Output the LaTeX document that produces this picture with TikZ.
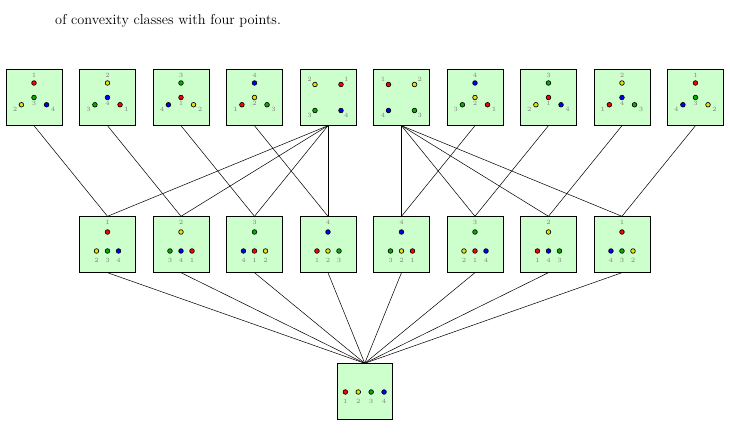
\documentclass[tikz,border=0pt]{standalone}
\usepackage{amsmath}
\usepackage{tikz}
\usetikzlibrary{positioning}

% colours of the four points
\colorlet{pcol1}{red}
\colorlet{pcol2}{yellow!90!black}
\colorlet{pcol3}{green!70!black}
\colorlet{pcol4}{blue}

\tikzset{
  classbox/.style={draw, fill=green!20, minimum size=1.52cm, inner sep=0pt},
  dotstyle/.style={draw=black, line width=0.5pt},
  numlabel/.style={text=gray, font=\tiny, inner sep=0pt},
  labN/.style={yshift=6pt},
  labC/.style={yshift=-4.6pt},
  labBL/.style={xshift=-5pt, yshift=-3.3pt},
  labBR/.style={xshift=5pt, yshift=-3.3pt},
  labUL/.style={xshift=-4.1pt, yshift=3.9pt},
  labUR/.style={xshift=4.1pt, yshift=3.9pt},
  labLL/.style={xshift=-4.1pt, yshift=-3.9pt},
  labLR/.style={xshift=4.1pt, yshift=-3.9pt},
  labUp/.style={yshift=7.3pt},
  labDn/.style={yshift=-7.3pt},
}

% one point: position, number, label placement
\newcommand{\pnt}[3]{%
  \filldraw[dotstyle, fill=pcol#2] #1 circle (1.8pt);
  \path #1 node[numlabel, #3] {#2};}

% box, top, centre, lower left, lower right
\newcommand{\tribox}[5]{%
  \begin{scope}[shift={(#1)}]
    \pnt{(90:0.395)}{#2}{labN}
    \pnt{(0,0)}{#3}{labC}
    \pnt{(210:0.395)}{#4}{labBL}
    \pnt{(330:0.395)}{#5}{labBR}
  \end{scope}}

% box, upper left, upper right, lower left, lower right
\newcommand{\sqbox}[5]{%
  \begin{scope}[shift={(#1)}]
    \pnt{(-0.354,0.354)}{#2}{labUL}
    \pnt{(0.354,0.354)}{#3}{labUR}
    \pnt{(-0.354,-0.354)}{#4}{labLL}
    \pnt{(0.354,-0.354)}{#5}{labLR}
  \end{scope}}

% box, top, then three along the bottom
\newcommand{\midbox}[5]{%
  \begin{scope}[shift={(#1)}]
    \pnt{(0,0.34)}{#2}{labUp}
    \pnt{(-0.30,-0.177)}{#3}{labDn}
    \pnt{(0,-0.177)}{#4}{labDn}
    \pnt{(0.30,-0.177)}{#5}{labDn}
  \end{scope}}

\begin{document}
\begin{tikzpicture}[scale=1]
    \useasboundingbox (-0.925, -9.510) rectangle (18.94, 2.653);

    \node[anchor=base west, inner sep=0pt, font=\fontsize{11.1}{13}\selectfont]
        (caption) at (0.571, 1.98) {of convexity classes with four points.};

    % Top row: ten classes
    \node[classbox] (t1) at (0, 0) {};
    \node[classbox] (t2) at (2, 0) {};
    \node[classbox] (t3) at (4, 0) {};
    \node[classbox] (t4) at (6, 0) {};
    \node[classbox] (t5) at (8, 0) {};
    \node[classbox] (t6) at (10, 0) {};
    \node[classbox] (t7) at (12, 0) {};
    \node[classbox] (t8) at (14, 0) {};
    \node[classbox] (t9) at (16, 0) {};
    \node[classbox] (t10) at (18, 0) {};

    \tribox{t1}{1}{3}{2}{4}
    \tribox{t2}{2}{4}{3}{1}
    \tribox{t3}{3}{1}{4}{2}
    \tribox{t4}{4}{2}{1}{3}
    \sqbox{t5}{2}{1}{3}{4}
    \sqbox{t6}{1}{2}{4}{3}
    \tribox{t7}{4}{2}{3}{1}
    \tribox{t8}{3}{1}{2}{4}
    \tribox{t9}{2}{4}{1}{3}
    \tribox{t10}{1}{3}{4}{2}

    % Middle row: eight classes
    \node[classbox] (m1) at (2, -4) {};
    \node[classbox] (m2) at (4, -4) {};
    \node[classbox] (m3) at (6, -4) {};
    \node[classbox] (m4) at (8, -4) {};
    \node[classbox] (m5) at (10, -4) {};
    \node[classbox] (m6) at (12, -4) {};
    \node[classbox] (m7) at (14, -4) {};
    \node[classbox] (m8) at (16, -4) {};

    \midbox{m1}{1}{2}{3}{4}
    \midbox{m2}{2}{3}{4}{1}
    \midbox{m3}{3}{4}{1}{2}
    \midbox{m4}{4}{1}{2}{3}
    \midbox{m5}{4}{3}{2}{1}
    \midbox{m6}{3}{2}{1}{4}
    \midbox{m7}{2}{1}{4}{3}
    \midbox{m8}{1}{4}{3}{2}

    % Bottom: all four on a line
    \node[classbox] (b) at (9, -8) {};
    \pnt{(8.474,-8.014)}{1}{labDn}
    \pnt{(8.825,-8.014)}{2}{labDn}
    \pnt{(9.175,-8.014)}{3}{labDn}
    \pnt{(9.526,-8.014)}{4}{labDn}

    % Top to middle
    \draw (t1.south) -- (m1.north);
    \draw (t2.south) -- (m2.north);
    \draw (t3.south) -- (m3.north);
    \draw (t4.south) -- (m4.north);
    \draw (t5.south) -- (m1.north);
    \draw (t5.south) -- (m2.north);
    \draw (t5.south) -- (m3.north);
    \draw (t5.south) -- (m4.north);
    \draw (t6.south) -- (m5.north);
    \draw (t6.south) -- (m6.north);
    \draw (t6.south) -- (m7.north);
    \draw (t6.south) -- (m8.north);
    \draw (t7.south) -- (m5.north);
    \draw (t8.south) -- (m6.north);
    \draw (t9.south) -- (m7.north);
    \draw (t10.south) -- (m8.north);

    % Middle to bottom
    \draw (m1.south) -- (b.north);
    \draw (m2.south) -- (b.north);
    \draw (m3.south) -- (b.north);
    \draw (m4.south) -- (b.north);
    \draw (m5.south) -- (b.north);
    \draw (m6.south) -- (b.north);
    \draw (m7.south) -- (b.north);
    \draw (m8.south) -- (b.north);
\end{tikzpicture}
\end{document}
